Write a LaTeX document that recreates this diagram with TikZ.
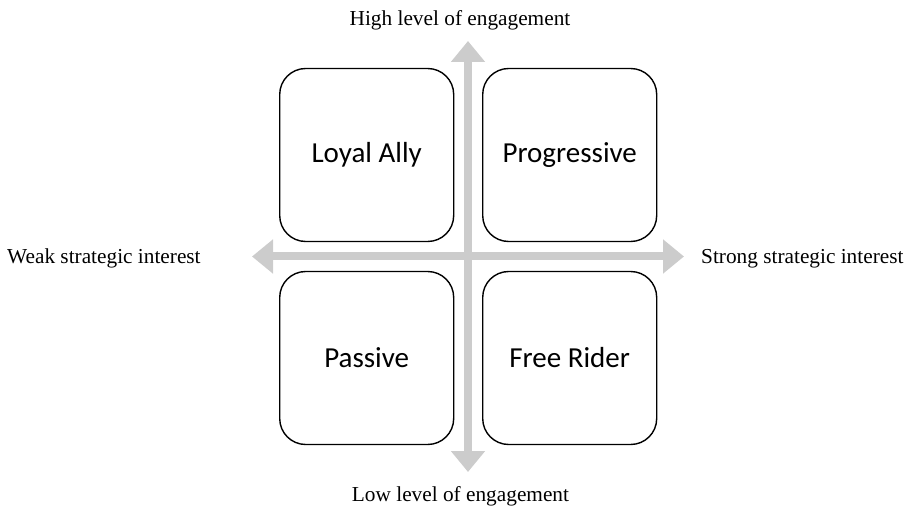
\documentclass[tikz,border=0pt]{standalone}
\usepackage{fontspec}
\setmainfont{Liberation Serif}
\newfontfamily\boxfont{Carlito}
\usetikzlibrary{arrows.meta}
\definecolor{axisgrey}{HTML}{CCCCCC}
\begin{document}
\begin{tikzpicture}[x=1pt,y=-1pt,
  quadrant/.style={draw=black,line width=1.4pt,rounded corners=26pt,
    minimum width=174pt,minimum height=173pt,inner sep=0pt,
    font=\boxfont\fontsize{29}{34}\selectfont},
  axis/.style={draw=axisgrey,line width=8pt,
    {Triangle[length=21pt,width=33pt]}-{Triangle[length=21pt,width=33pt]}},
  axislabel/.style={font=\fontsize{21.3}{25}\selectfont,inner sep=0pt}]
\useasboundingbox (0,0) rectangle (906,508);

% axis end points
\coordinate (top) at (468,41);
\coordinate (bottom) at (468,472);
\coordinate (left) at (252,256.5);
\coordinate (right) at (684,256.5);

\draw[axis] (top) -- (bottom);
\draw[axis] (left) -- (right);

% the four quadrants
\node[quadrant] (ally) at (366.7,155) {Loyal Ally};
\node[quadrant] (prog) at (569.7,155) {Progressive};
\node[quadrant] (passive) at (366.7,358) {Passive};
\node[quadrant] (rider) at (569.7,358) {Free Rider};

% axis labels
\node[axislabel,anchor=base] (high) at (460,26) {High level of engagement};
\node[axislabel,anchor=base] (low) at (460.5,501) {Low level of engagement};
\node[axislabel,anchor=base west] (weak) at (7,264) {Weak strategic interest};
\node[axislabel,anchor=base west] (strong) at (701,264) {Strong strategic interest};
\end{tikzpicture}
\end{document}
